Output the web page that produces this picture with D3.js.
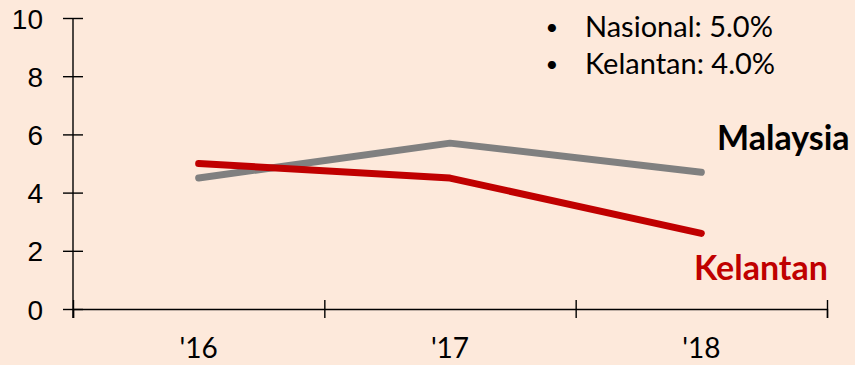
<!DOCTYPE html>
<html>
<head>
<meta charset="utf-8">
<script src="https://cdn.jsdelivr.net/npm/d3@7"></script>
<style>
  html, body { margin: 0; padding: 0; background: #fde9db; }
  svg { display: block; font-family: Lato, "Open Sans", sans-serif; }
  .axis path, .axis line { stroke: #000; stroke-width: 1.4; }
  .axis text { fill: #000; }
</style>
</head>
<body>
<div id="chart"></div>
<script>
const WIDTH = 855;
const HEIGHT = 365;

// data
const years = ["'16", "'17", "'18"];
const malaysia = [4.5, 5.7, 4.7];
const kelantan = [5.0, 4.5, 2.6];
const yTicks = [0, 2, 4, 6, 8, 10];
const notes = ["Nasional: 5.0%", "Kelantan: 4.0%"];

const LEFT = 73, RIGHT = 827, TOP = 18, BOTTOM = 309;

var svg = d3.select("#chart")
    .append("svg")
    .attr("width", WIDTH)
    .attr("height", HEIGHT);

svg.append("rect")
    .attr("width", WIDTH)
    .attr("height", HEIGHT)
    .attr("fill", "#fde9db");

var x_scale = d3.scaleBand()
    .domain(years)
    .range([LEFT, RIGHT]);

var y_scale = d3.scaleLinear()
    .domain([0, 10])
    .range([BOTTOM, TOP]);

// boundaries between categories
var edge_scale = d3.scaleLinear()
    .domain([0, years.length])
    .range([LEFT, RIGHT]);

function xMid(i) {
    return x_scale(years[i]) + x_scale.bandwidth() / 2;
}

// y axis
var yAxis = svg.append("g")
    .attr("class", "axis")
    .attr("transform", "translate(" + LEFT + ",0)")
    .call(d3.axisLeft(y_scale).tickValues(yTicks).tickSizeOuter(0).tickSize(10).tickPadding(20));
yAxis.select(".domain").remove();
yAxis.selectAll(".tick line").attr("x1", -10).attr("x2", 10);
yAxis.selectAll(".tick text")
    .style("font-size", "28px")
    .attr("dy", "0.36em");
yAxis.append("line")
    .attr("x1", 0).attr("x2", 0)
    .attr("y1", y_scale(10))
    .attr("y2", y_scale(0) + 9);

// x axis boundary ticks
var xAxis = svg.append("g")
    .attr("class", "axis")
    .attr("transform", "translate(0," + BOTTOM + ")")
    .call(d3.axisBottom(edge_scale).tickValues(d3.range(years.length + 1)).tickSizeOuter(0).tickSize(9).tickFormat(""));
xAxis.selectAll(".tick line").attr("y1", -9).attr("y2", 9);

// x labels
svg.append("g")
    .selectAll("text")
    .data(years)
    .enter()
    .append("text")
    .attr("x", (d, i) => xMid(i))
    .attr("y", 358)
    .attr("text-anchor", "middle")
    .style("font-size", "28px")
    .text(d => d);

// lines
var line = d3.line()
    .x((d, i) => xMid(i))
    .y(d => y_scale(d));

svg.append("path")
    .datum(malaysia)
    .attr("d", line)
    .attr("fill", "none")
    .attr("stroke", "#808080")
    .attr("stroke-width", 7)
    .attr("stroke-linecap", "round")
    .attr("stroke-linejoin", "round");

svg.append("path")
    .datum(kelantan)
    .attr("d", line)
    .attr("fill", "none")
    .attr("stroke", "#c00000")
    .attr("stroke-width", 7)
    .attr("stroke-linecap", "round")
    .attr("stroke-linejoin", "round");

// series labels
svg.append("text")
    .attr("x", 717)
    .attr("y", 150)
    .style("font-size", "34px")
    .style("font-weight", "bold")
    .attr("fill", "#000")
    .text("Malaysia");

svg.append("text")
    .attr("x", 694)
    .attr("y", 280)
    .style("font-size", "34px")
    .style("font-weight", "bold")
    .attr("fill", "#c00000")
    .text("Kelantan");

// notes
var noteG = svg.append("g");
notes.forEach(function(n, i) {
    noteG.append("text")
        .attr("x", 552)
        .attr("y", 35 + i * 37)
        .attr("text-anchor", "middle")
        .style("font-size", "22px")
        .text("\u2022");
    noteG.append("text")
        .attr("x", 585)
        .attr("y", 37 + i * 37)
        .style("font-size", "29px")
        .text(n);
});
</script>
</body>
</html>
